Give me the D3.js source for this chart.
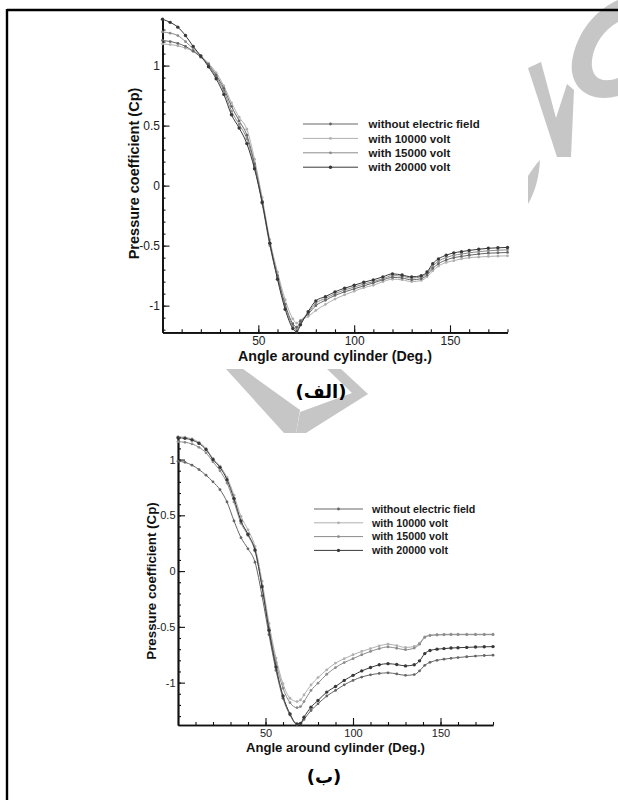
<!DOCTYPE html>
<html>
<head>
<meta charset="utf-8">
<script src="https://cdn.jsdelivr.net/npm/d3@7"></script>
<style>
  body { margin: 0; background: #fff; }
  svg { display: block; }
</style>
</head>
<body>
<svg id="chart"></svg>
<script>
// Angles (deg) where the curves were read
const angles = [0, 4, 8, 12, 16, 20, 24, 28, 32, 36, 40, 44, 48, 52, 56, 60, 64, 68, 70, 72, 76, 80, 85, 90, 95, 100,
  105, 110, 115, 120, 125, 130, 135, 138, 141, 144, 148, 152, 156, 160, 165, 170, 175, 180];

// Panel (الف)
const topWithout = [1.21, 1.20, 1.185, 1.16, 1.12, 1.07, 1.01, 0.92, 0.81, 0.66, 0.54, 0.42, 0.18, -0.13, -0.48, -0.75,
  -0.99, -1.15, -1.18, -1.13, -1.07, -1.00, -0.955, -0.915, -0.885, -0.86, -0.835, -0.81, -0.785, -0.765, -0.77, -0.785,
  -0.775, -0.745, -0.69, -0.65, -0.62, -0.60, -0.59, -0.58, -0.57, -0.563, -0.56, -0.557];
const top10000 = [1.18, 1.175, 1.165, 1.145, 1.12, 1.08, 1.02, 0.94, 0.83, 0.69, 0.57, 0.47, 0.22, -0.10, -0.45, -0.72,
  -0.95, -1.11, -1.145, -1.12, -1.09, -1.04, -0.99, -0.945, -0.91, -0.88, -0.85, -0.83, -0.80, -0.78, -0.785, -0.80,
  -0.79, -0.76, -0.71, -0.67, -0.64, -0.625, -0.61, -0.60, -0.595, -0.59, -0.587, -0.585];
const top15000 = [1.28, 1.27, 1.25, 1.20, 1.14, 1.08, 1.00, 0.905, 0.79, 0.62, 0.51, 0.39, 0.16, -0.15, -0.50, -0.77,
  -1.01, -1.17, -1.20, -1.15, -1.06, -0.98, -0.94, -0.90, -0.87, -0.845, -0.82, -0.80, -0.775, -0.75, -0.755, -0.77,
  -0.76, -0.73, -0.67, -0.63, -0.60, -0.58, -0.57, -0.56, -0.55, -0.543, -0.538, -0.535];
const top20000 = [1.386, 1.36, 1.32, 1.25, 1.16, 1.08, 0.99, 0.89, 0.76, 0.59, 0.48, 0.35, 0.14, -0.14, -0.48, -0.78,
  -1.03, -1.19, -1.22, -1.16, -1.05, -0.96, -0.925, -0.885, -0.855, -0.83, -0.805, -0.785, -0.76, -0.735, -0.745, -0.76,
  -0.75, -0.72, -0.65, -0.61, -0.58, -0.56, -0.55, -0.54, -0.53, -0.522, -0.518, -0.515];

// Panel (ب)
const botWithout = [0.985, 0.975, 0.95, 0.91, 0.86, 0.80, 0.73, 0.62, 0.45, 0.30, 0.20, 0.08, -0.22, -0.57, -0.89, -1.14,
  -1.29, -1.375, -1.37, -1.33, -1.25, -1.19, -1.12, -1.07, -1.02, -0.98, -0.95, -0.93, -0.918, -0.912, -0.922, -0.935,
  -0.928, -0.895, -0.845, -0.818, -0.80, -0.79, -0.782, -0.775, -0.768, -0.762, -0.757, -0.754];
const bot10000 = [1.205, 1.20, 1.185, 1.155, 1.10, 1.01, 0.94, 0.84, 0.68, 0.49, 0.37, 0.22, -0.09, -0.47, -0.78, -1.01,
  -1.14, -1.17, -1.155, -1.11, -1.02, -0.955, -0.885, -0.825, -0.785, -0.75, -0.72, -0.695, -0.67, -0.655, -0.668, -0.685,
  -0.675, -0.645, -0.59, -0.574, -0.569, -0.567, -0.566, -0.566, -0.566, -0.566, -0.566, -0.566];
const bot15000 = [1.16, 1.155, 1.14, 1.11, 1.06, 0.98, 0.90, 0.79, 0.62, 0.43, 0.32, 0.18, -0.13, -0.51, -0.82, -1.05,
  -1.18, -1.225, -1.215, -1.17, -1.07, -1.005, -0.925, -0.865, -0.82, -0.785, -0.75, -0.72, -0.695, -0.68, -0.692, -0.705,
  -0.69, -0.655, -0.595, -0.578, -0.573, -0.571, -0.57, -0.57, -0.57, -0.57, -0.57, -0.57];
const bot20000 = [1.195, 1.19, 1.175, 1.145, 1.09, 1.00, 0.93, 0.82, 0.65, 0.45, 0.33, 0.19, -0.14, -0.53, -0.86, -1.12,
  -1.28, -1.37, -1.365, -1.31, -1.22, -1.16, -1.085, -1.035, -0.98, -0.935, -0.895, -0.865, -0.84, -0.83, -0.838, -0.85,
  -0.84, -0.805, -0.74, -0.712, -0.70, -0.695, -0.69, -0.687, -0.684, -0.681, -0.679, -0.677];

const seriesNames = ["without electric field", "with 10000 volt", "with 15000 volt", "with 20000 volt"];
const seriesColors = ["#666666", "#b0b0b0", "#8c8c8c", "#383838"];
const drawOrder = [1, 2, 0, 3];  // light lines first, dark on top

const xTicks = [50, 100, 150];
const yTicks = [-1, -0.5, 0, 0.5, 1];

const font = "Arial, 'Liberation Sans', Helvetica, sans-serif";

const svg = d3.select("#chart")
    .attr("width", 618)
    .attr("height", 800);

// watermark (light grey shapes behind everything)
const wm = svg.append("g").attr("fill", "#c6c6c6").attr("stroke", "none");
wm.append("path").attr("d", "M618,96 C588,104 566,86 573,56 C580,26 600,8 618,0 L618,22 C604,30 594,44 592,60 C590,78 602,84 618,78 Z");
wm.append("path").attr("d", "M528,68 L541,62 L556,118 L567,84 L574,90 L571,157 L557,157 Z");
wm.append("path").attr("d", "M540,160 C539,178 535,192 528,204 L528,176 C532,170 536,164 540,160 Z");
wm.append("path").attr("d", "M226,369 L243,369 L300,410 L296,433 L284,433 Z");
wm.append("path").attr("d", "M327,369 L341,369 L368,394 L306,433 L296,433 L300,412 L352,393 Z");

// page frame (top and left edges)
svg.append("line").attr("x1", 7).attr("y1", 10).attr("x2", 618).attr("y2", 10)
    .attr("stroke", "#000").attr("stroke-width", 2.4);
svg.append("line").attr("x1", 7).attr("y1", 9).attr("x2", 7).attr("y2", 800)
    .attr("stroke", "#000").attr("stroke-width", 2.4);

function drawPanel(p) {
    const x = d3.scaleLinear().domain([0, 180]).range(p.xRange);
    const y = d3.scaleLinear().domain(p.yDomain).range(p.yRange);
    const g = svg.append("g");
    const yBase = p.yRange[0], xBase = p.xRange[0];

    // minor ticks
    g.append("g").attr("transform", `translate(0,${yBase})`)
        .call(d3.axisBottom(x).tickValues(d3.range(10, 181, 10)).tickSizeInner(-3).tickSizeOuter(0).tickFormat(""));
    const yMinor = d3.range(-14, 15).map(i => i / 10).filter(v => v >= p.yDomain[0] && v <= p.yDomain[1]);
    g.append("g").attr("transform", `translate(${xBase},0)`)
        .call(d3.axisLeft(y).tickValues(yMinor).tickSizeInner(-3).tickSizeOuter(0).tickFormat(""));

    // major ticks with labels
    const xAxis = g.append("g").attr("transform", `translate(0,${yBase})`)
        .call(d3.axisBottom(x).tickValues(xTicks).tickSizeInner(-7).tickSizeOuter(0).tickFormat(d => String(d)));
    xAxis.selectAll("text").attr("dy", null).attr("y", p.xLabelY - yBase);
    g.append("g").attr("transform", `translate(${xBase},0)`)
        .call(d3.axisLeft(y).tickValues(yTicks).tickSizeInner(-7).tickSizeOuter(0).tickPadding(2.5).tickFormat(d => String(d)));

    g.selectAll(".tick line").attr("stroke", "#111").attr("stroke-width", 1.1);
    g.selectAll(".domain").attr("stroke", "#111").attr("stroke-width", 1.7);
    g.selectAll(".tick text").attr("font-family", font).attr("font-size", p.fTick).attr("fill", "#222");

    // curves
    const line = d3.line()
        .x((d, i) => x(angles[i]))
        .y(d => y(d))
        .curve(d3.curveMonotoneX);

    drawOrder.forEach(k => {
        const vals = p.series[k];
        g.append("path")
            .attr("d", line(vals))
            .attr("fill", "none")
            .attr("stroke", seriesColors[k])
            .attr("stroke-width", 1);
        g.selectAll(null)
            .data(vals)
            .enter()
            .append("circle")
            .attr("cx", (d, i) => x(angles[i]))
            .attr("cy", d => y(d))
            .attr("r", k === 3 ? 1.7 : 1.4)
            .attr("fill", seriesColors[k]);
    });

    // axis titles
    g.append("text")
        .attr("x", (p.xRange[0] + p.xRange[1]) / 2)
        .attr("y", p.xTitleY)
        .attr("text-anchor", "middle")
        .attr("font-family", font).attr("font-weight", "bold")
        .attr("font-size", p.fTitle).attr("fill", "#111")
        .text("Angle around cylinder (Deg.)");
    g.append("text")
        .attr("transform", `translate(${p.yTitleX},${p.yTitleMid}) rotate(-90)`)
        .attr("text-anchor", "middle")
        .attr("dy", "0.35em")
        .attr("font-family", font).attr("font-weight", "bold")
        .attr("font-size", p.fYTitle).attr("fill", "#111")
        .text("Pressure coefficient (Cp)");

    // legend
    const lg = p.legend;
    seriesNames.forEach((name, k) => {
        const ly = lg.y0 + k * lg.dy;
        g.append("line")
            .attr("x1", lg.x0).attr("x2", lg.x1).attr("y1", ly).attr("y2", ly)
            .attr("stroke", seriesColors[k]).attr("stroke-width", 1);
        g.append("circle")
            .attr("cx", (lg.x0 + lg.x1) / 2).attr("cy", ly)
            .attr("r", k === 3 ? 1.7 : 1.4).attr("fill", seriesColors[k]);
        g.append("text")
            .attr("x", lg.tx).attr("y", ly + lg.fs * 0.36)
            .attr("font-family", font).attr("font-weight", "bold")
            .attr("font-size", lg.fs).attr("fill", "#1a1a1a")
            .text(name);
    });

    // panel label
    svg.append("text")
        .attr("x", p.label.x).attr("y", p.label.y)
        .attr("text-anchor", "middle")
        .attr("font-family", "'DejaVu Sans', sans-serif").attr("font-weight", "bold")
        .attr("font-size", 18).attr("fill", "#000")
        .text(p.label.text);
}

drawPanel({
    xRange: [162.5, 507.5],
    yRange: [332.3, 19],
    yDomain: [-1.222, 1.388],
    series: [topWithout, top10000, top15000, top20000],
    fTick: 12, fTitle: 14.2, fYTitle: 14.5,
    xLabelY: 345, xTitleY: 361,
    yTitleX: 133.5, yTitleMid: 173.5,
    legend: { x0: 303, x1: 358, tx: 368.5, y0: 124, dy: 14.4, fs: 11.5 },
    label: { text: "(الف)", x: 321, y: 398 }
});

drawPanel({
    xRange: [178, 493],
    yRange: [725, 436.7],
    yDomain: [-1.38, 1.205],
    series: [botWithout, bot10000, bot15000, bot20000],
    fTick: 11, fTitle: 13.1, fYTitle: 13.3,
    xLabelY: 736.5, xTitleY: 752,
    yTitleX: 151, yTitleMid: 581,
    legend: { x0: 314, x1: 363, tx: 372, y0: 509, dy: 13.8, fs: 10.7 },
    label: { text: "(ب)", x: 324, y: 783 }
});
</script>
</body>
</html>
